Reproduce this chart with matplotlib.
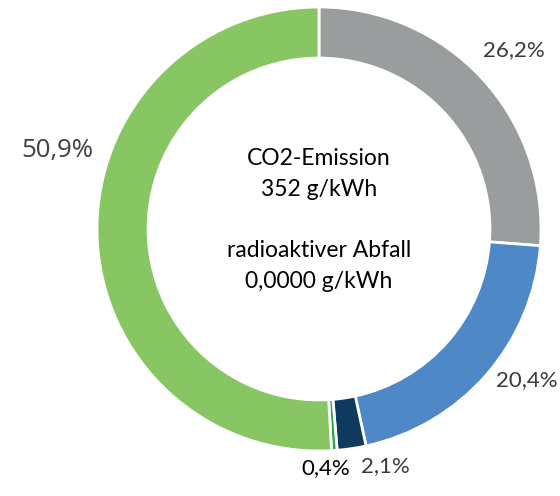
import matplotlib.pyplot as plt

# share of each source, clockwise from 12 o'clock
shares = [26.2, 20.4, 2.1, 0.4, 50.9]
labels = ['26,2%', '20,4%', '2,1%', '0,4%', '50,9%']
colors = ['#999d9e', '#4f88c6', '#0e3a5f', '#2fa84a', '#88c664']
center_lines = ['CO2-Emission', '352 g/kWh', '', 'radioaktiver Abfall', '0,0000 g/kWh']

# label centres in pixels of the 560x496 picture
label_px = [(514, 50), (527, 380), (385, 466), (326, 468), (57, 151)]

W, H = 560, 496
cx, cy, R = 319, 229, 222

fig = plt.figure(figsize=(W / 100, H / 100), dpi=100)
ax = fig.add_axes([(cx - R) / W, (H - cy - R) / H, 2 * R / W, 2 * R / H])

ax.pie(shares, colors=colors, startangle=90, counterclock=False, radius=1.0,
       wedgeprops=dict(width=0.23, edgecolor='white', linewidth=2))
ax.set_xlim(-1, 1)
ax.set_ylim(-1, 1)
ax.set_aspect('equal')
ax.axis('off')


def px2data(px, py):
    return (px - cx) / R, (cy - py) / R


for i, (lab, (px, py)) in enumerate(zip(labels, label_px)):
    x, y = px2data(px, py)
    if i == 4:
        ax.text(x, y, lab, ha='center', va='center', fontsize=18.5,
                family='Open Sans', color='#404040')
    else:
        ax.text(x, y, lab, ha='center', va='center', fontsize=16,
                family='Lato', color='#3a3a3a' if i != 3 else '#000000')

x, y = px2data(cx, 220)
ax.text(x, y, '\n'.join(center_lines), ha='center', va='center', fontsize=16.5,
        family='Lato', color='black', linespacing=1.58)

fig.savefig('out.png', dpi=100)
